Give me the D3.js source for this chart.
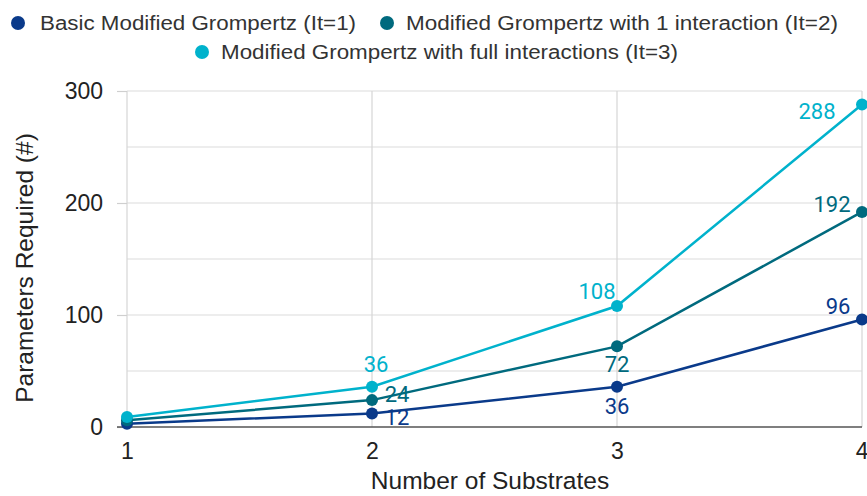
<!DOCTYPE html>
<html>
<head>
<meta charset="utf-8">
<script src="https://cdn.jsdelivr.net/npm/d3@7"></script>
<style>
  body { margin: 0; background: #fff; }
  svg { display: block; }
</style>
</head>
<body>
<svg id="chart" width="867" height="496"></svg>
<script>
// data
var substrates = [1, 2, 3, 4];
var basic = [3, 12, 36, 96];
var oneInteraction = [6, 24, 72, 192];
var fullInteractions = [9, 36, 108, 288];
var seriesNames = [
  'Basic Modified Grompertz (It=1)',
  'Modified Grompertz with 1 interaction (It=2)',
  'Modified Grompertz with full interactions (It=3)'
];
var yTicks = [0, 100, 200, 300];
var yGrid = [50, 100, 150, 200, 250, 300];

var colors = ['#0a3a8a', '#006a7e', '#00b2cc'];
var series = [basic, oneInteraction, fullInteractions];

var svg = d3.select('#chart');

var margin = { top: 91, left: 127 },
  width = 862 - margin.left,
  height = 427 - margin.top;

var x = d3.scaleLinear().domain([1, 4]).range([0, width]);
var y = d3.scaleLinear().domain([0, 300]).range([height, 0]);

var g = svg.append('g').attr('transform', `translate(${margin.left},${margin.top})`);

// grid
g.selectAll('line.hgrid').data(yGrid).enter().append('line')
  .attr('x1', 0).attr('x2', width)
  .attr('y1', d => y(d)).attr('y2', d => y(d))
  .attr('stroke', '#dcdcdc').attr('stroke-width', 1.2);

g.selectAll('line.vgrid').data(substrates).enter().append('line')
  .attr('x1', d => x(d)).attr('x2', d => x(d))
  .attr('y1', 0).attr('y2', height)
  .attr('stroke', '#d6d6d6').attr('stroke-width', 1.2);

// y ticks
var yAxisG = g.append('g')
  .call(d3.axisLeft(y).tickValues(yTicks).tickSize(10).tickPadding(14).tickFormat(d3.format('d')));
yAxisG.select('.domain').remove();
yAxisG.selectAll('line').attr('stroke', '#cfcfcf').attr('stroke-width', 1.2);
yAxisG.selectAll('text')
  .attr('font-family', 'Liberation Sans, Arial, sans-serif')
  .attr('font-size', 23).attr('fill', '#222');

// x axis
var xAxisG = g.append('g').attr('transform', `translate(0,${height})`)
  .call(d3.axisBottom(x).tickValues(substrates).tickSize(0).tickPadding(16).tickFormat(d3.format('d')));
xAxisG.select('.domain').attr('stroke', '#555').attr('stroke-width', 1.5).attr('d', `M-10,0H${width}`);
xAxisG.selectAll('text')
  .attr('font-family', 'Liberation Sans, Arial, sans-serif')
  .attr('font-size', 23).attr('fill', '#222');
xAxisG.selectAll('.tick:last-of-type text').attr('text-anchor', 'end').attr('dx', 6);

// axis titles
svg.append('text')
  .attr('x', 490).attr('y', 489)
  .attr('text-anchor', 'middle')
  .attr('font-family', 'Liberation Sans, Arial, sans-serif')
  .attr('font-size', 24.5).attr('fill', '#222')
  .text('Number of Substrates');

svg.append('text')
  .attr('transform', 'translate(33,268) rotate(-90)')
  .attr('text-anchor', 'middle')
  .attr('font-family', 'Liberation Sans, Arial, sans-serif')
  .attr('font-size', 24.5).attr('fill', '#222')
  .text('Parameters Required (#)');

// lines
var line = d3.line().x((d, i) => x(substrates[i])).y(d => y(d));

series.forEach(function(values, index) {
  g.append('path')
    .datum(values)
    .attr('fill', 'none')
    .attr('stroke', colors[index])
    .attr('stroke-width', 2.5)
    .attr('d', line);

  g.selectAll(`.dot-${index}`).data(values).enter().append('circle')
    .attr('cx', (d, i) => x(substrates[i]))
    .attr('cy', d => y(d))
    .attr('r', 6)
    .attr('fill', colors[index]);
});

// data labels (point at x=1 not labelled)
var labelOffsets = [
  [null, [25, 4], [0, 20], [-24, -13]],
  [null, [25, -6], [0, 18], [-30, -7]],
  [null, [4, -22], [-20, -15], [-45, 7]]
];
series.forEach(function(values, index) {
  values.forEach(function(v, i) {
    var off = labelOffsets[index][i];
    if (!off) return;
    g.append('text')
      .attr('x', x(substrates[i]) + off[0])
      .attr('y', y(v) + off[1])
      .attr('text-anchor', 'middle')
      .attr('dominant-baseline', 'central')
      .attr('font-family', 'Roboto, sans-serif')
      .attr('font-size', 22)
      .attr('fill', colors[index])
      .text(v);
  });
});

// legend
var legendItems = [
  { x: 18, y: 23, w: 316 },
  { x: 387, y: 23, w: 432 },
  { x: 202, y: 52, w: 457 }
];
var legend = svg.append('g').selectAll('g').data(seriesNames).enter().append('g')
  .attr('transform', (d, i) => `translate(${legendItems[i].x},${legendItems[i].y})`);
legend.append('circle').attr('r', 7).attr('fill', (d, i) => colors[i]);
legend.append('text')
  .attr('x', (d, i) => i === 0 ? 22 : 19)
  .attr('dy', '0.36em')
  .attr('font-family', 'Liberation Sans, Arial, sans-serif')
  .attr('font-size', 20)
  .attr('fill', '#333')
  .attr('textLength', (d, i) => legendItems[i].w)
  .attr('lengthAdjust', 'spacingAndGlyphs')
  .text(d => d);
</script>
</body>
</html>
